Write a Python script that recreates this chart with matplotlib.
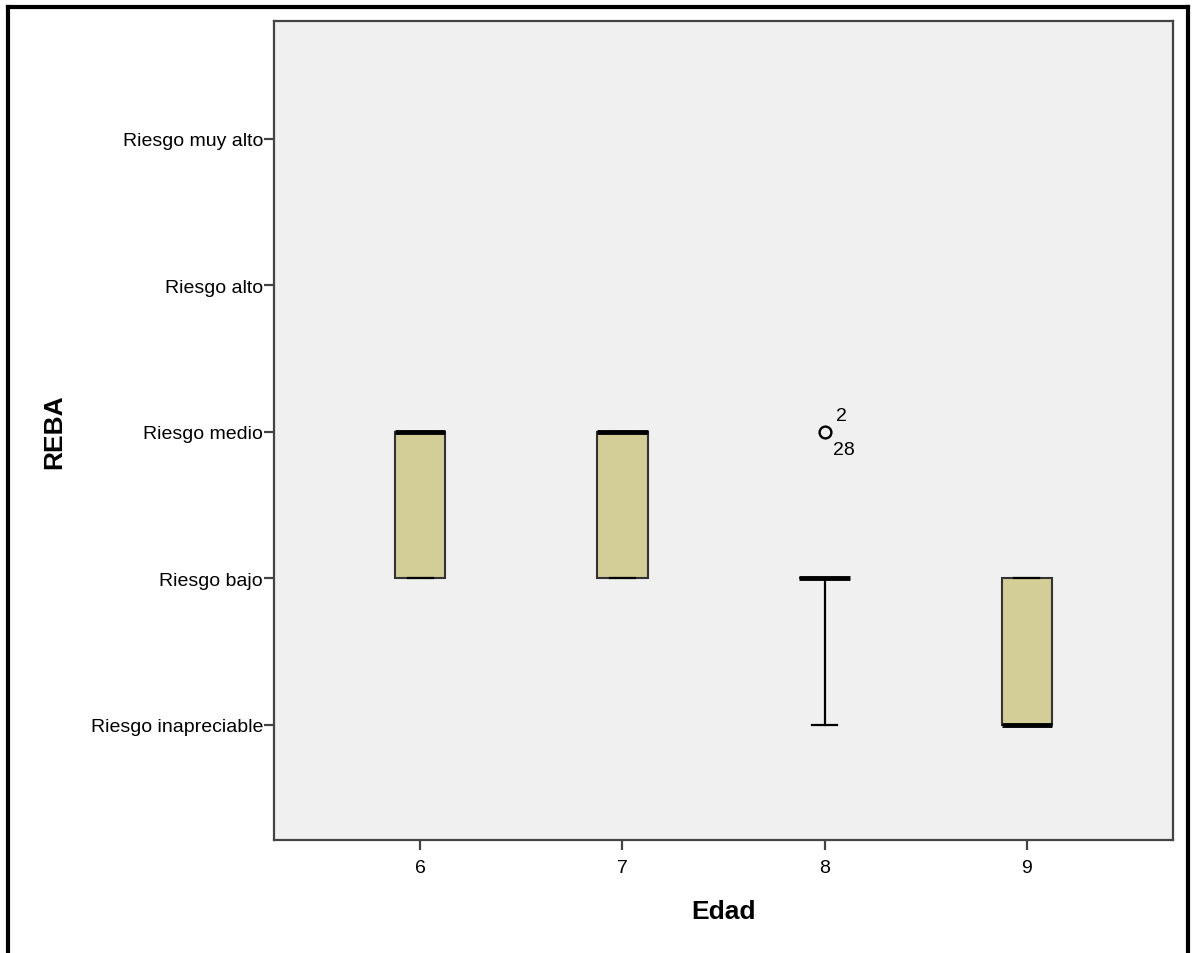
import matplotlib
matplotlib.use("Agg")
import matplotlib.pyplot as plt
from matplotlib.lines import Line2D

plt.rcParams['font.family'] = ['Liberation Sans', 'DejaVu Sans']

# Data (ordinal REBA levels coded 1..5)
edad = [6, 7, 8, 9]
y_labels = ["Riesgo inapreciable", "Riesgo bajo", "Riesgo medio", "Riesgo alto", "Riesgo muy alto"]
y_codes = [1, 2, 3, 4, 5]
q1 = [2, 2, 2, 1]
med = [3, 3, 2, 1]
q3 = [3, 3, 2, 2]
wlo = [2, 2, 1, 1]
whi = [3, 3, 2, 2]
outliers = [[], [], [3], []]
outlier_labels = {8: ("2", "28")}

fig = plt.figure(figsize=(11.94, 9.54), dpi=100)
ax = fig.add_axes([274/1194, 1-841/954, (1173-274)/1194, (841-22)/954])
ax.set_facecolor('#F0F0F0')

stats = []
for i in range(len(edad)):
    stats.append(dict(med=med[i], q1=q1[i], q3=q3[i], whislo=wlo[i], whishi=whi[i],
                      fliers=outliers[i], label=str(edad[i])))

bp = ax.bxp(stats, positions=edad, widths=0.25, patch_artist=True, showfliers=True,
            boxprops=dict(facecolor='#D3CE97', edgecolor='#333333', linewidth=1.5),
            medianprops=dict(color='black', linewidth=3.5, solid_capstyle='butt'),
            whiskerprops=dict(color='black', linewidth=1.6),
            capprops=dict(color='black', linewidth=1.6),
            capwidths=0.125,
            flierprops=dict(marker='o', markerfacecolor='none', markeredgecolor='black',
                            markersize=8.5, markeredgewidth=1.7))

for x, labs in outlier_labels.items():
    i = edad.index(x)
    for yv in outliers[i]:
        ax.annotate(labs[0], (x, yv), xytext=(17, 16), textcoords='offset pixels',
                    ha='center', va='center', fontsize=14)
        ax.annotate(labs[1], (x, yv), xytext=(19, -18), textcoords='offset pixels',
                    ha='center', va='center', fontsize=14)

ax.set_xlim(5.277, 9.723)
ax.set_ylim(0.215, 5.805)
ax.set_xticks(edad)
ax.set_xticklabels([str(e) for e in edad])
ax.set_yticks(y_codes)
ax.set_yticklabels(y_labels)
ax.tick_params(axis='both', direction='out', length=7, width=1.6, color='#444444',
               labelsize=14, pad=1)
ax.tick_params(axis='x', pad=7)
for s in ax.spines.values():
    s.set_color('#444444')
    s.set_linewidth(1.6)

ax.set_xlabel("Edad", fontsize=19, fontweight='bold')
ax.set_ylabel("REBA", fontsize=19, fontweight='bold')
ax.xaxis.set_label_coords(0.5, -0.072)
ax.yaxis.set_label_coords(-0.231, 0.5)

# outer frame (left, top, right)
lw = 3.0
fig.add_artist(Line2D([8/1194, 8/1194], [0, 1-8/954], transform=fig.transFigure, color='black', lw=lw))
fig.add_artist(Line2D([8/1194, 1188/1194], [1-8/954, 1-8/954], transform=fig.transFigure, color='black', lw=lw))
fig.add_artist(Line2D([1188/1194, 1188/1194], [0, 1-8/954], transform=fig.transFigure, color='black', lw=lw))

fig.savefig("out.png", dpi=100, facecolor='white')
